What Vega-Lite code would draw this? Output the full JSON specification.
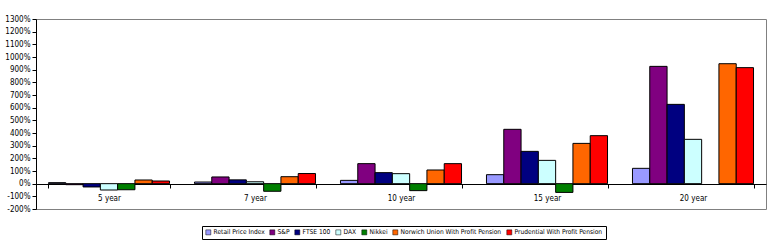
{
  "$schema": "https://vega.github.io/schema/vega-lite/v6.json",
  "width": 730,
  "height": 190,
  "autosize": {"type": "none"},
  "padding": {"left": 36, "top": 19, "right": 9, "bottom": 40},
  "background": "white",
  "config": {
    "view": {"stroke": "#808080", "strokeWidth": 1},
    "font": "DejaVu Sans Condensed"
  },
  "data": {
    "values": [
      {"period": "5 year", "series": "Retail Price Index", "value": 8},
      {"period": "5 year", "series": "S&P", "value": -8},
      {"period": "5 year", "series": "FTSE 100", "value": -26},
      {"period": "5 year", "series": "DAX", "value": -50},
      {"period": "5 year", "series": "Nikkei", "value": -48},
      {"period": "5 year", "series": "Norwich Union With Profit Pension", "value": 29},
      {"period": "5 year", "series": "Prudential With Profit Pension", "value": 21},
      {"period": "7 year", "series": "Retail Price Index", "value": 13},
      {"period": "7 year", "series": "S&P", "value": 53},
      {"period": "7 year", "series": "FTSE 100", "value": 30},
      {"period": "7 year", "series": "DAX", "value": 15},
      {"period": "7 year", "series": "Nikkei", "value": -60},
      {"period": "7 year", "series": "Norwich Union With Profit Pension", "value": 55},
      {"period": "7 year", "series": "Prudential With Profit Pension", "value": 80},
      {"period": "10 year", "series": "Retail Price Index", "value": 26},
      {"period": "10 year", "series": "S&P", "value": 158},
      {"period": "10 year", "series": "FTSE 100", "value": 87},
      {"period": "10 year", "series": "DAX", "value": 79},
      {"period": "10 year", "series": "Nikkei", "value": -55},
      {"period": "10 year", "series": "Norwich Union With Profit Pension", "value": 108},
      {"period": "10 year", "series": "Prudential With Profit Pension", "value": 158},
      {"period": "15 year", "series": "Retail Price Index", "value": 71},
      {"period": "15 year", "series": "S&P", "value": 429},
      {"period": "15 year", "series": "FTSE 100", "value": 255},
      {"period": "15 year", "series": "DAX", "value": 184},
      {"period": "15 year", "series": "Nikkei", "value": -69},
      {"period": "15 year", "series": "Norwich Union With Profit Pension", "value": 318},
      {"period": "15 year", "series": "Prudential With Profit Pension", "value": 379},
      {"period": "20 year", "series": "Retail Price Index", "value": 121},
      {"period": "20 year", "series": "S&P", "value": 926},
      {"period": "20 year", "series": "FTSE 100", "value": 626},
      {"period": "20 year", "series": "DAX", "value": 350},
      {"period": "20 year", "series": "Norwich Union With Profit Pension", "value": 947},
      {"period": "20 year", "series": "Prudential With Profit Pension", "value": 916}
    ]
  },
  "mark": {"type": "bar", "stroke": "black", "strokeWidth": 1},
  "encoding": {
    "x": {
      "field": "period",
      "type": "nominal",
      "sort": ["5 year", "7 year", "10 year", "15 year", "20 year"],
      "scale": {"paddingInner": 0.171, "paddingOuter": 0.0855},
      "axis": {
        "title": null,
        "labelAngle": 0,
        "tickBand": "extent",
        "offset": -25,
        "domainColor": "black",
        "tickColor": "black",
        "tickSize": 4,
        "labelFontSize": 8,
        "labelPadding": 6,
        "labelColor": "black",
        "grid": false
      }
    },
    "xOffset": {
      "field": "series",
      "type": "nominal",
      "scale": {
        "domain": ["Retail Price Index", "S&P", "FTSE 100", "DAX", "Nikkei", "Norwich Union With Profit Pension", "Prudential With Profit Pension"],
        "paddingInner": 0,
        "paddingOuter": 0
      }
    },
    "y": {
      "field": "value",
      "type": "quantitative",
      "scale": {"domain": [-200, 1300], "nice": false},
      "axis": {
        "title": null,
        "values": [-200, -100, 0, 100, 200, 300, 400, 500, 600, 700, 800, 900, 1000, 1100, 1200, 1300],
        "labelExpr": "datum.value + '%'",
        "grid": false,
        "domainColor": "black",
        "tickColor": "black",
        "tickSize": 4,
        "labelFontSize": 8,
        "labelColor": "black",
        "labelPadding": 2
      }
    },
    "color": {
      "field": "series",
      "type": "nominal",
      "scale": {
        "domain": ["Retail Price Index", "S&P", "FTSE 100", "DAX", "Nikkei", "Norwich Union With Profit Pension", "Prudential With Profit Pension"],
        "range": ["#9999FF", "#800080", "#000080", "#CCFFFF", "#008000", "#FF6600", "#FF0000"]
      },
      "legend": {
        "title": null,
        "orient": "none",
        "legendX": 166,
        "legendY": 207,
        "direction": "horizontal",
        "strokeColor": "black",
        "padding": 3,
        "symbolType": "square",
        "symbolSize": 25,
        "symbolStrokeColor": "black",
        "symbolStrokeWidth": 0.5,
        "labelFontSize": 6.6,
        "labelColor": "black",
        "labelOffset": 2,
        "columnPadding": 3
      }
    }
  }
}
